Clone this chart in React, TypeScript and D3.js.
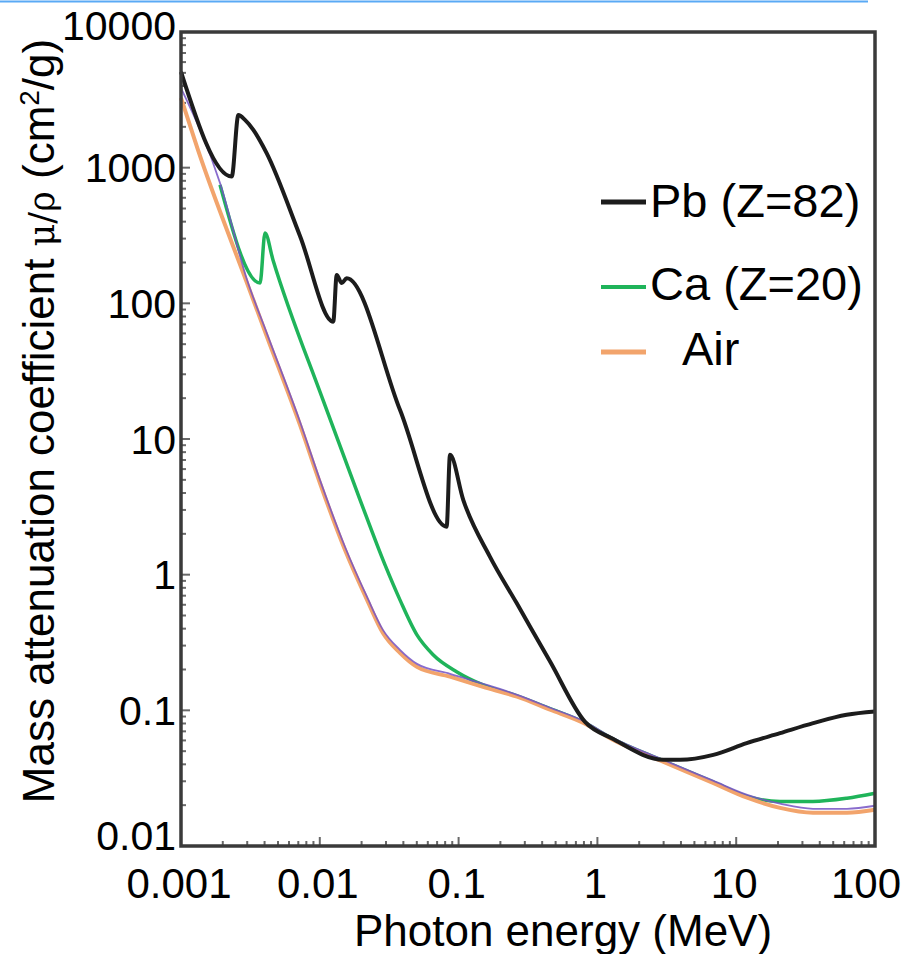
import React, { useEffect } from "react";
import * as d3 from "d3";

const W = 906;
const H = 954;

// Axis ticks
const xTickValues = [0.001, 0.01, 0.1, 1, 10, 100];
const xTickLabels = ["0.001", "0.01", "0.1", "1", "10", "100"];
const yTickValues = [0.01, 0.1, 1, 10, 100, 1000, 10000];
const yTickLabels = ["0.01", "0.1", "1", "10", "100", "1000", "10000"];

// Pb (Z=82)
const pbEnergy = [0.001, 0.00232, 0.00259, 0.00289, 0.00332, 0.00414, 0.0072, 0.0125, 0.01324, 0.01439, 0.01563, 0.0378, 0.082, 0.0867, 0.108, 0.168, 0.262, 0.455, 0.815, 1.29, 2.99, 3.94, 6.84, 11.9, 20.7, 35.9, 62.5, 100];
const pbMu = [5090, 860, 2440, 2250, 1900, 1280, 314, 73.3, 162, 141, 153, 16.4, 2.26, 7.64, 3.56, 1.36, 0.617, 0.23, 0.0822, 0.0617, 0.0432, 0.0432, 0.047, 0.0573, 0.0679, 0.0805, 0.0927, 0.098];

// Ca (Z=20)
const caEnergy = [0.00191, 0.00371, 0.00403, 0.0046, 0.01054, 0.0195, 0.0295, 0.0378, 0.0501, 0.0655, 0.0973, 0.15, 0.264, 0.456, 0.787, 1.29, 2.97, 6.81, 12.0, 20.7, 35.7, 62.8, 100];
const caMu = [747, 141, 330, 209, 19.4, 3.56, 1.18, 0.652, 0.36, 0.257, 0.192, 0.154, 0.128, 0.103, 0.0822, 0.0617, 0.0425, 0.0297, 0.0232, 0.0213, 0.0213, 0.0225, 0.0245];

// Air
const airEnergy = [0.001, 0.001325, 0.00299, 0.00417, 0.0072, 0.01002, 0.0152, 0.0219, 0.0285, 0.0378, 0.0501, 0.0867, 0.15, 0.264, 0.456, 0.787, 1.29, 2.97, 6.81, 12.0, 20.7, 35.7, 62.8, 100];
const airMu = [3270, 1350, 141, 56.5, 12.7, 4.74, 1.52, 0.652, 0.372, 0.265, 0.209, 0.177, 0.149, 0.126, 0.101, 0.081, 0.0607, 0.0418, 0.0292, 0.0227, 0.0191, 0.0176, 0.0176, 0.0185];

// Unlabelled purple trace visible under the others
const tissueEnergy = [0.001, 0.00191, 0.00299, 0.00417, 0.0072, 0.01002, 0.0152, 0.0219, 0.0285, 0.0378, 0.0501, 0.0867, 0.15, 0.264, 0.456, 0.787, 1.29, 2.97, 6.81, 12.0, 20.7, 35.7, 62.8, 100];
const tissueMu = [3860, 771, 149, 59.6, 13.4, 5.0, 1.6, 0.685, 0.392, 0.279, 0.22, 0.186, 0.157, 0.13, 0.1045, 0.0838, 0.0627, 0.0432, 0.0303, 0.0238, 0.0205, 0.0188, 0.0188, 0.0198];

const legendLabels = ["Pb (Z=82)", "Ca (Z=20)", "Air"];
const legendColors = ["#1c1c1c", "#1fb45a", "#f2a46c"];

const FONT = "'Liberation Sans', Arial, Helvetica, sans-serif";

const L = 181, R = 875, T = 32, B = 846;

export default function App() {
  useEffect(() => {
    document.body.style.margin = "0";
    document.body.style.background = "#fff";
  }, []);

  const x = d3.scaleLog().domain([0.001, 100]).range([L, R]);
  const y = d3.scaleLog().domain([0.01, 10000]).range([B, T]);

  const line = d3
    .line<[number, number]>()
    .x((d) => x(d[0]))
    .y((d) => y(d[1]))
    .curve(d3.curveMonotoneX);

  const zip = (a: number[], b: number[]) => a.map((v, i) => [v, b[i]] as [number, number]);

  const yMinor = y.ticks();
  const xMinor = x.ticks();

  const legendY = [202, 287, 352];
  const legendTextX = [650, 650, 682];
  const legendBase = [217, 300, 365];

  // labels at the ends of the y axis sit a little inside, as in the original
  const yLabelShift = (i: number) => (i === 0 ? -11 : i === yTickValues.length - 1 ? -7 : 0);

  return (
    <svg width={W} height={H} style={{ display: "block", background: "#fff" }}>
      {/* decorative blue rule at the top */}
      <line x1={0} x2={868} y1={1.5} y2={1.5} stroke="#5aaaf5" strokeWidth={2} />

      {/* minor ticks */}
      {yMinor.map((v, i) => {
        const major = yTickValues.includes(v);
        return (
          <line key={"ym" + i} x1={L} x2={L + (major ? 9 : 5)} y1={y(v)} y2={y(v)} stroke="#444" strokeWidth={2} opacity={0.8} />
        );
      })}
      {xMinor.map((v, i) => {
        const major = xTickValues.includes(v);
        return (
          <line key={"xm" + i} x1={x(v)} x2={x(v)} y1={B} y2={B - (major ? 9 : 5)} stroke="#444" strokeWidth={2} opacity={0.8} />
        );
      })}

      {/* curves */}
      <path d={line(zip(caEnergy, caMu)) || ""} fill="none" stroke={legendColors[1]} strokeWidth={3.5} />
      <path d={line(zip(airEnergy, airMu)) || ""} fill="none" stroke={legendColors[2]} strokeWidth={4} />
      <path d={line(zip(tissueEnergy, tissueMu)) || ""} fill="none" stroke="#7452c4" strokeWidth={1.8} opacity={0.85} />
      <path d={line(zip(pbEnergy, pbMu)) || ""} fill="none" stroke={legendColors[0]} strokeWidth={4} strokeLinejoin="round" />

      {/* frame */}
      <rect x={L} y={T} width={R - L} height={B - T} fill="none" stroke="#3a3a3a" strokeWidth={3.5} />

      {/* y tick labels */}
      {yTickValues.map((v, i) => (
        <text key={"yl" + i} x={176} y={y(v) + yLabelShift(i)} dy="0.36em" textAnchor="end" fontFamily={FONT} fontSize={41} fill="#000">
          {yTickLabels[i]}
        </text>
      ))}
      {/* x tick labels */}
      {xTickValues.map((v, i) => (
        <text key={"xl" + i} x={Math.min(x(v) - 2, 866)} y={898} textAnchor="middle" fontFamily={FONT} fontSize={42} fill="#000">
          {xTickLabels[i]}
        </text>
      ))}

      {/* axis titles */}
      <text x={563} y={946} textAnchor="middle" fontFamily={FONT} fontSize={44} fill="#000">
        Photon energy (MeV)
      </text>
      <text transform="translate(54,421) rotate(-90)" textAnchor="middle" fontFamily={FONT} fontSize={44} fill="#000">
        Mass attenuation coefficient <tspan fontFamily="'DejaVu Serif', serif" fontSize={35}>μ/ρ</tspan> (cm
        <tspan baselineShift="super" fontSize={28}>2</tspan>/g)
      </text>

      {/* legend */}
      {legendLabels.map((lab, i) => (
        <g key={"lg" + i}>
          <line x1={601} x2={646} y1={legendY[i]} y2={legendY[i]} stroke={legendColors[i]} strokeWidth={i === 1 ? 4 : 5} />
          <text x={legendTextX[i]} y={legendBase[i]} fontFamily={FONT} fontSize={47} fill="#000">
            {lab}
          </text>
        </g>
      ))}
    </svg>
  );
}
